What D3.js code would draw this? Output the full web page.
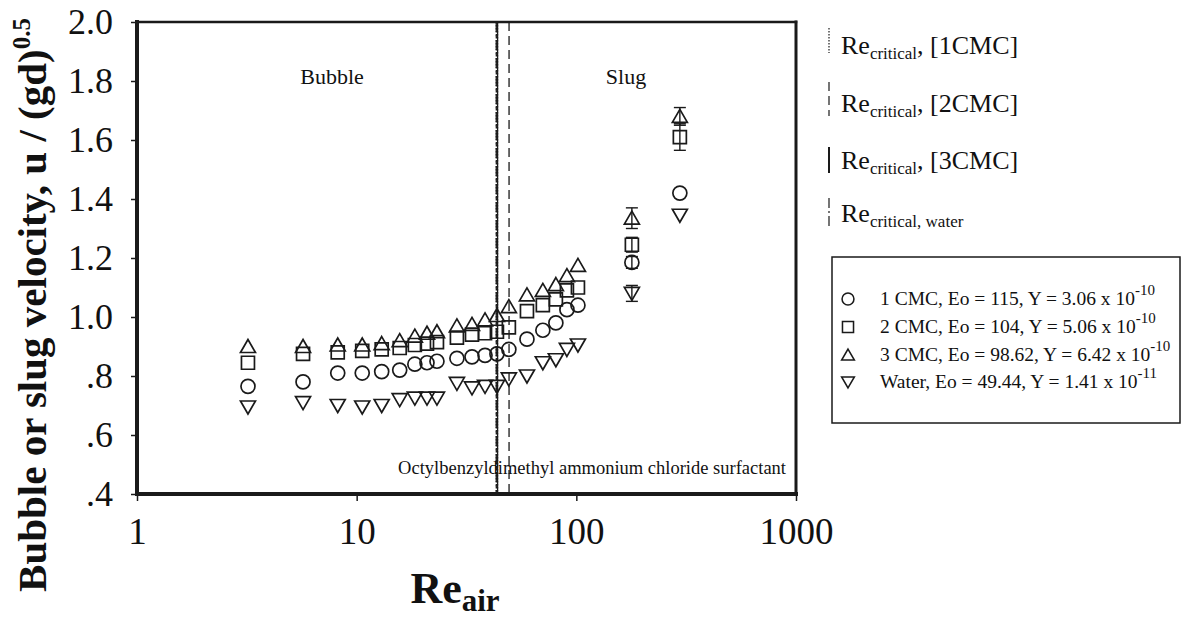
<!DOCTYPE html>
<html>
<head>
<meta charset="utf-8">
<script src="https://cdn.jsdelivr.net/npm/d3@7"></script>
<style>
  html, body { margin: 0; padding: 0; background: #fff; }
  svg { display: block; }
  text { font-family: "Liberation Serif", "Times New Roman", serif; fill: #111; }
</style>
</head>
<body>
<svg id="chart" width="1187" height="624"></svg>
<script>
// Air Reynolds number at each measurement column
const reAir = [3.2, 5.7, 8.2, 10.6, 13.0, 15.7, 18.4, 20.9, 23.2, 28.6, 33.5, 38.4, 43.5, 49.3, 59.6, 70.4, 80.7, 90.6, 101.7, 179, 296];

// Dimensionless bubble / slug velocity u/(gd)^0.5 per solution
const cmc1 = [0.765, 0.78, 0.81, 0.81, 0.815, 0.82, 0.84, 0.845, 0.85, 0.86, 0.865, 0.87, 0.875, 0.89, 0.925, 0.955, 0.98, 1.025, 1.04, 1.185, 1.42];
const cmc2 = [0.845, 0.875, 0.88, 0.885, 0.89, 0.895, 0.905, 0.91, 0.915, 0.93, 0.94, 0.945, 0.95, 0.965, 1.02, 1.04, 1.06, 1.09, 1.10, 1.245, 1.61];
const cmc3 = [0.90, 0.90, 0.905, 0.905, 0.91, 0.92, 0.935, 0.945, 0.95, 0.97, 0.975, 0.99, 1.005, 1.035, 1.075, 1.09, 1.11, 1.14, 1.175, 1.335, 1.68];
const water = [0.695, 0.71, 0.70, 0.695, 0.70, 0.72, 0.725, 0.725, 0.725, 0.775, 0.76, 0.765, 0.765, 0.79, 0.80, 0.845, 0.855, 0.89, 0.905, 1.08, 1.345];

// Error bars (half-range) — only the slug points carry them
const cmc1Err = [0, 0, 0, 0, 0, 0, 0, 0, 0, 0, 0, 0, 0, 0, 0, 0, 0, 0, 0, 0.02, 0];
const cmc2Err = [0, 0, 0, 0, 0, 0, 0, 0, 0, 0, 0, 0, 0, 0, 0, 0, 0, 0, 0, 0.025, 0.045];
const cmc3Err = [0, 0, 0, 0, 0, 0, 0, 0, 0, 0, 0, 0, 0, 0, 0, 0, 0, 0, 0, 0.035, 0.03];
const waterErr = [0, 0, 0, 0, 0, 0, 0, 0, 0, 0, 0, 0, 0, 0, 0, 0, 0, 0, 0, 0.027, 0];

// Critical Reynolds numbers (bubble -> slug transition)
const reCritical = [43.5, 49.4, 43.8, 43.2];
const reCriticalNames = ["[1CMC]", "[2CMC]", "[3CMC]", "water"];

// Series legend text
const seriesNames = ["1 CMC, Eo = 115, Y = 3.06 x 10", "2 CMC, Eo = 104, Y = 5.06 x 10", "3 CMC, Eo = 98.62, Y = 6.42 x 10", "Water, Eo = 49.44, Y =  1.41 x 10"];
const seriesExp = ["-10", "-10", "-10", "-11"];

// Axis ticks
const xTicks = [1, 10, 100, 1000];
const xTickLabels = ["1", "10", "100", "1000"];
const yTicks = [0.4, 0.6, 0.8, 1.0, 1.2, 1.4, 1.6, 1.8, 2.0];
const yTickLabels = [".4", ".6", ".8", "1.0", "1.2", "1.4", "1.6", "1.8", "2.0"];

const svg = d3.select("#chart");
const ink = "#1a1a1a";
const plot = { left: 137, right: 796, top: 22, bottom: 494 };

const x = d3.scaleLog().domain([1, 1000]).range([plot.left, plot.right]);
const y = d3.scaleLinear().domain([0.4, 2.0]).range([plot.bottom, plot.top]);

svg.append("rect").attr("width", 1187).attr("height", 624).attr("fill", "#fff");

// Marker shapes
const shapes = {
  circle: "M7,0A7,7 0 1,1 -7,0A7,7 0 1,1 7,0Z",
  square: "M-6.5,-6.5H6.5V6.5H-6.5Z",
  up: "M0,-7L7.5,6L-7.5,6Z",
  down: "M0,7L7.5,-6L-7.5,-6Z"
};

const series = [
  { vals: cmc1, err: cmc1Err, shape: "circle", dash: "1.5,1.5" },
  { vals: cmc2, err: cmc2Err, shape: "square", dash: "9,5" },
  { vals: cmc3, err: cmc3Err, shape: "up", dash: null },
  { vals: water, err: waterErr, shape: "down", dash: "10,3,2,3" }
];

// Critical Reynolds number lines
const critG = svg.append("g");
series.forEach((s, i) => {
  critG.append("line")
    .attr("x1", x(reCritical[i])).attr("x2", x(reCritical[i]))
    .attr("y1", plot.top).attr("y2", plot.bottom)
    .attr("stroke", ink).attr("stroke-width", i === 0 ? 2.5 : 1.3)
    .attr("stroke-dasharray", s.dash);
});

// Axes
const yAxis = d3.axisLeft(y).tickValues(yTicks)
  .tickFormat((d, i) => yTickLabels[i]).tickSize(6).tickPadding(18);
const gy = svg.append("g").attr("transform", `translate(${plot.left},0)`).call(yAxis);
gy.select(".domain").remove();
gy.selectAll(".tick line").attr("stroke", ink).attr("stroke-width", 1.5);
gy.selectAll(".tick text").attr("font-size", 36).attr("font-family", "Liberation Serif").attr("fill", ink);

const xAxis = d3.axisBottom(x).tickValues(xTicks)
  .tickFormat((d, i) => xTickLabels[i]).tickSize(7).tickPadding(17);
const gx = svg.append("g").attr("transform", `translate(0,${plot.bottom})`).call(xAxis);
gx.select(".domain").remove();
gx.selectAll(".tick line").attr("stroke", ink).attr("stroke-width", 1.5);
gx.selectAll(".tick text").attr("font-size", 37).attr("font-family", "Liberation Serif").attr("fill", ink);

// Plot frame (heavier on the axis sides)
const frame = svg.append("g").attr("stroke", ink).attr("stroke-linecap", "square");
frame.append("line").attr("x1", plot.left).attr("x2", plot.right).attr("y1", plot.top).attr("y2", plot.top).attr("stroke-width", 2.5);
frame.append("line").attr("x1", plot.right).attr("x2", plot.right).attr("y1", plot.top).attr("y2", plot.bottom).attr("stroke-width", 3);
frame.append("line").attr("x1", plot.left).attr("x2", plot.left).attr("y1", plot.top).attr("y2", plot.bottom).attr("stroke-width", 4);
frame.append("line").attr("x1", plot.left).attr("x2", plot.right).attr("y1", plot.bottom).attr("y2", plot.bottom).attr("stroke-width", 4);

// Error bars and markers
const marks = svg.append("g");
series.forEach(s => {
  const pts = reAir.map((r, i) => ({ r, v: s.vals[i], e: s.err[i] }));
  const eb = marks.append("g").attr("stroke", ink).attr("stroke-width", 1.4);
  pts.filter(p => p.e > 0).forEach(p => {
    const cx = x(p.r), yt = y(p.v + p.e), yb = y(p.v - p.e);
    eb.append("line").attr("x1", cx).attr("x2", cx).attr("y1", yt).attr("y2", yb);
    eb.append("line").attr("x1", cx - 6).attr("x2", cx + 6).attr("y1", yt).attr("y2", yt);
    eb.append("line").attr("x1", cx - 6).attr("x2", cx + 6).attr("y1", yb).attr("y2", yb);
  });
  marks.append("g").selectAll("path").data(pts).join("path")
    .attr("d", shapes[s.shape])
    .attr("transform", p => `translate(${x(p.r)},${y(p.v)})`)
    .attr("fill", "none").attr("stroke", ink).attr("stroke-width", 1.7);
});

// Region labels and note
svg.append("text").attr("x", 332).attr("y", 84).attr("text-anchor", "middle").attr("font-size", 22).text("Bubble");
svg.append("text").attr("x", 626).attr("y", 84).attr("text-anchor", "middle").attr("font-size", 22).text("Slug");
svg.append("text").attr("x", 786).attr("y", 474).attr("text-anchor", "end").attr("font-size", 18.5)
  .text("Octylbenzyldimethyl ammonium chloride surfactant");

// Axis titles
const yTitle = svg.append("text").attr("transform", "translate(46,305) rotate(-90)")
  .attr("text-anchor", "middle").attr("font-size", 41).attr("font-weight", "bold");
yTitle.append("tspan").text("Bubble or slug velocity, u / (gd)");
yTitle.append("tspan").attr("font-size", 25).attr("dy", -16).text("0.5");

const xTitle = svg.append("text").attr("x", 455).attr("y", 603)
  .attr("text-anchor", "middle").attr("font-size", 44).attr("font-weight", "bold");
xTitle.append("tspan").text("Re");
xTitle.append("tspan").attr("font-size", 31).attr("dy", 8).text("air");

// Critical-Re legend (line samples + labels)
const critLeg = svg.append("g");
const critRows = [
  { y1: 28, y2: 53, base: 54 },
  { y1: 82, y2: 116, base: 112 },
  { y1: 147, y2: 173, base: 169 },
  { y1: 198, y2: 228, base: 222 }
];
critRows.forEach((r, i) => {
  critLeg.append("line").attr("x1", 829).attr("x2", 829).attr("y1", r.y1).attr("y2", r.y2)
    .attr("stroke", ink).attr("stroke-width", i === 2 ? 2 : 1.2).attr("stroke-dasharray", series[i].dash);
  const t = critLeg.append("text").attr("x", 841).attr("y", r.base).attr("font-size", 26);
  t.append("tspan").text("Re");
  if (i < 3) {
    t.append("tspan").attr("font-size", 17).attr("dy", 5).text("critical");
    t.append("tspan").attr("dy", -5).text(", " + reCriticalNames[i]);
  } else {
    t.append("tspan").attr("font-size", 17).attr("dy", 5).text("critical, " + reCriticalNames[i]);
  }
});

// Series legend box
const leg = svg.append("g");
leg.append("rect").attr("x", 832).attr("y", 257).attr("width", 348).attr("height", 166)
  .attr("fill", "none").attr("stroke", ink).attr("stroke-width", 1.5);
const rowY = [299, 327, 355, 382];
series.forEach((s, i) => {
  leg.append("path").attr("d", shapes[s.shape])
    .attr("transform", `translate(848,${rowY[i]}) scale(0.85)`)
    .attr("fill", "none").attr("stroke", ink).attr("stroke-width", 1.8);
  const t = leg.append("text").attr("x", 880).attr("y", rowY[i] + 6).attr("font-size", 19.5);
  t.append("tspan").text(seriesNames[i]);
  t.append("tspan").attr("font-size", 15).attr("dy", -10).text(seriesExp[i]);
});
</script>
</body>
</html>
